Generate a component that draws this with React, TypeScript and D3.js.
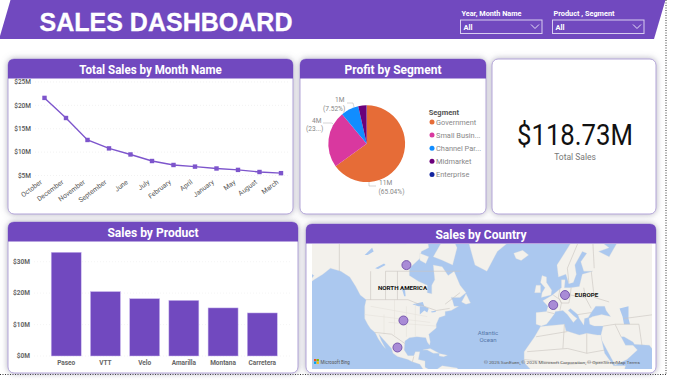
import React from "react";
import * as d3 from "d3";

const PURPLE = "#7149bf";
const months = ["October","December","November","September","June","July","February","April","January","May","August","March"];
const monthSales = [21.6,17.3,12.6,10.8,9.5,8.1,7.25,6.9,6.5,6.2,5.75,5.5];
const monthTicks = [5,10,15,20,25];
const products = ["Paseo","VTT","Velo","Amarilla","Montana","Carretera"];
const productSales = [33,20.5,18.25,17.7,15.3,13.7];
const productTicks = [0,10,20,30];
const segments = ["Government","Small Busin...","Channel Par...","Midmarket","Enterprise"];
const segmentProfit = [65.04,23.9,7.52,3.44,0.1];
const segmentColors = ["#e66c37","#d9389f","#118dff","#6b007b","#12239e"];
const countries: [number, number][] = [[-96,62],[-98,39],[-102,23.6],[2.5,46.6],[10.4,51]];

type P = [number, number];
const northAmerica: P[] = [[-168,66],[-162,70],[-156,71.5],[-141,70],[-128,70],[-115,68],[-108,68],[-96,68],[-94,72],[-88,68],[-82,69.5],[-81,67],[-86,66],[-87,64],[-94,61],[-94,58.5],[-88,56.5],[-82,55],[-82,52],[-79,51.5],[-79,55],[-77,57],[-78,62],[-72,61.5],[-68,58.5],[-64,60],[-60,55],[-56,52],[-60,50],[-66,50],[-65,48.5],[-64,46],[-61,46],[-66,44],[-70,43.5],[-70,41.5],[-74,40.5],[-76,37],[-76,35],[-81,31.5],[-80,27],[-80.5,25],[-82,27],[-83,29.5],[-89,30],[-94,29.5],[-97,27.5],[-97.5,22],[-95,18.5],[-91,18.5],[-90,21],[-87,21],[-88,16],[-83.5,15],[-83.5,11],[-80,9],[-77,8],[-75,10],[-72,12],[-62,10.5],[-60,8],[-60,0],[-80,0],[-80,7],[-85,10],[-87,13],[-92,14.5],[-95,16],[-102,18],[-105,20],[-106,23],[-109,26],[-112,29],[-114.5,31.5],[-113,28],[-110,23],[-112,25],[-115,29],[-117,32.5],[-120,34.5],[-122,37],[-124,40],[-124,46],[-123,49],[-127,51],[-130,54.5],[-134,58],[-140,60],[-147,61],[-152,59],[-158,57],[-164,54.5],[-158,58.5],[-165,61],[-165,64]];
const baffin: P[] = [[-92,74],[-72,74],[-62,67],[-65,62],[-72,63.5],[-78,64.5],[-73,68],[-80,70],[-86,70]];
const southampton: P[] = [[-87,65.5],[-81,64.5],[-83,62.5],[-87,63.5]];
const victoria: P[] = [[-118,72],[-105,73],[-102,69],[-115,69]];
const newfoundland: P[] = [[-59,48],[-56,51.5],[-53,47.5],[-56,47]];
const greenland: P[] = [[-60,76],[-20,76],[-22,70],[-35,66],[-42,60],[-50,62],[-54,68],[-58,74]];
const iceland: P[] = [[-24,65.5],[-18,66.3],[-14,65],[-19,63.4],[-22.5,64]];
const britain: P[] = [[-5.5,50],[1,51],[1.5,53],[-2,56],[-2,58],[-5,58.5],[-6,56],[-3,54],[-5,52]];
const ireland: P[] = [[-10,52],[-6,52],[-6,55],[-9,55]];
const cuba: P[] = [[-85,22],[-80,23],[-74,20],[-78,20],[-82,22]];
const hispaniola: P[] = [[-74,19.8],[-68.5,18.7],[-71,17.8],[-74,18.3]];
const eurasia: P[] = [[-9,37],[-9,43],[-2,43.5],[-1,46],[-4.5,48.5],[2,51],[8,54],[8,57],[10.5,57],[10,54],[14,54],[20,54.5],[22,59],[29,60],[23,60],[21,63],[25,65.5],[22,66],[17,62],[18,59],[16,56],[13,55.5],[11,59],[6,58],[5,62],[14,68],[25,71],[40,67],[33,66],[40,64.5],[45,68],[68,69],[70,75],[100,75],[100,10],[80,10],[73,18],[67,25],[57,25.5],[56,27],[50,30],[48,30],[51,25],[56,25],[59,22],[52,16],[44,12.5],[42,16],[35,28],[34.5,31],[36,36],[30,36],[27,37],[26.5,40],[29,41],[35,42],[41,41],[38,44],[37,46],[33,46],[31,46],[28,43],[26,40.5],[23.5,40],[23,36.5],[20,40],[19,42],[14,45],[12.5,44],[16,41.5],[18.5,40],[16,38],[12,42],[9,44],[4,43.5],[3,42],[0,39],[-2,37],[-5.5,36]];
const africa: P[] = [[-6,35.8],[10,37],[11,33.5],[20,31],[25,32],[32,31],[34.5,31],[35,28],[37,20],[43,12],[51,12],[48,0],[10,0],[9,5],[-8,4.5],[-17,14],[-17,21],[-10,30]];
const lands = [northAmerica,baffin,southampton,victoria,newfoundland,greenland,iceland,britain,ireland,cuba,hispaniola,eurasia,africa];
const caspian: P[] = [[47,45],[53,46],[53,40],[54,37],[50,37],[49,41]];
const superior: P[] = [[-92,47],[-85,48],[-84,46],[-88,46]];
const huron: P[] = [[-87,46],[-84,46],[-81,45],[-82,43],[-84,44],[-87,42]];
const ontario: P[] = [[-79.5,43.5],[-76,44],[-76.5,43.3],[-79,43]];
const winnipeg: P[] = [[-99,53.5],[-97,53.5],[-96.5,50.5],[-97.5,50.5]];
const slave: P[] = [[-117,61],[-111,62.5],[-110,62],[-115,60.7]];
const bear: P[] = [[-124,65],[-119,67],[-118,66],[-122,65]];
const waters = [caspian,superior,huron,ontario,winnipeg,slave,bear];
const borders: P[][] = [
  [[-123,49],[-95,49],[-84,46],[-76,44],[-67,45]],
  [[-117,32.5],[-106,31.5],[-97,26]],
  [[-141,70],[-141,60]],
  [[-92,14.5],[-91,18]],
  [[-1.5,43.3],[3,42.5]],[[2.5,51],[7,49],[8,47.5],[7,44]],[[7,53.5],[6,50],[8,47.5],[13,47.5],[14,51],[14.5,54]],
  [[14,51],[24,50],[28,45]],[[23,54],[24,50]],[[28,60],[30,50],[40,48]],[[20,69],[12,61],[13,56]],[[29,69],[30,61]],
  [[19,42],[28,43]],[[36,36],[44,37],[48,30]],[[44,37],[60,37],[62,25]],[[50,40],[70,42]],
  [[-9,30],[12,33]],[[25,32],[25,20],[37,22]],[[-15,21],[12,23],[25,20]],[[10,37],[9,23]],[[-17,16],[14,13],[40,15]],
  [[-70,47],[-60,52]],[[-110,60],[-60,60]],[[-110,60],[-110,49]],[[-120,60],[-120,49]],[[-102,60],[-102,49]],
];
const stateLines: P[][] = [[[-104,49],[-104,31]],[[-96,46],[-96,30]],[[-111,42],[-111,31.5]],[[-124,42],[-80,38]],[[-90,47],[-90,30]],[[-120,46],[-82,41]],[[-108,38],[-76,36]]];

const projection = d3.geoMercator().scale(85.4).translate([549.5, 383.7]);
const mapLine = d3.line<P>().x(d => projection(d)![0]).y(d => projection(d)![1]);
const closed = (pts: P[]) => mapLine(pts)! + "Z";

function Card({ x, y, w, h, title }: { x: number; y: number; w: number; h: number; title?: string }) {
  const r = 6;
  const headerH = 19.5;
  const path = `M${x},${y + headerH}V${y + r}Q${x},${y} ${x + r},${y}H${x + w - r}Q${x + w},${y} ${x + w},${y + r}V${y + headerH}Z`;
  return (
    <g>
      <rect x={x} y={y} width={w} height={h} rx={r} fill="#fff" stroke="#b3a5d8" strokeWidth={1} filter="url(#shadow)" />
      {title && <path d={path} fill={PURPLE} />}
      {title && (
        <text x={x + w / 2} y={y + 14.5} textAnchor="middle" fontFamily="Roboto" fontWeight={700} fontSize={13.5} fill="#fff" textLength={title.length * 5.7} lengthAdjust="spacingAndGlyphs">{title}</text>
      )}
    </g>
  );
}

function Slicer({ x, w, label, labelW }: { x: number; w: number; label: string; labelW: number }) {
  return (
    <g fontFamily="Roboto" fill="#fff">
      <text x={x + 1} y={15.5} fontSize={8} fontWeight={700} textLength={labelW} lengthAdjust="spacingAndGlyphs">{label}</text>
      <rect x={x} y={20} width={w} height={13.5} fill="none" stroke="#d8cdf0" strokeWidth={1} />
      <text x={x + 3} y={30} fontSize={7.5} fontWeight={700}>All</text>
      <path d={`M${x + w - 11},${24.5}l4,4l4,-4`} fill="none" stroke="#e8e0f8" strokeWidth={1} />
    </g>
  );
}

export default function App() {
  const lx = d3.scalePoint<string>().domain(months).range([44.5, 281]);
  const ly = d3.scaleLinear().domain([5, 25]).range([175.5, 82]);
  const linePath = d3.line<string>().x(d => lx(d)!).y((_, i) => ly(monthSales[i]))(months)!;

  const bx = d3.scaleBand<string>().domain(products).range([46.5, 282]).paddingInner(0.235).paddingOuter(0.12);
  const by = d3.scaleLinear().domain([0, 30]).range([356, 261.7]);

  const arcs = d3.pie<number>().sort(null)(segmentProfit);
  const arc = d3.arc<d3.PieArcDatum<number>>().innerRadius(0).outerRadius(38.4);

  return (
    <svg width={680} height={380} style={{ position: "absolute", left: 0, top: 0, background: "#fff" }}>
      <defs>
        <filter id="shadow" x="-10%" y="-10%" width="120%" height="120%">
          <feDropShadow dx={0} dy={0} stdDeviation={3.4} floodColor="#7d7a90" floodOpacity={0.6} />
        </filter>
        <clipPath id="mapClip"><rect x={312} y={244} width={340} height={125} /></clipPath>
        <filter id="soft"><feGaussianBlur stdDeviation={0.6} /></filter>
      </defs>

      <path d="M10.5,0H665.5L654,39H0V36Z" fill={PURPLE} />
      <text x={39.5} y={31} fontFamily="Liberation Sans" fontWeight={700} fontSize={26} fill="#fff" stroke="#fff" strokeWidth={0.3} textLength={253} lengthAdjust="spacingAndGlyphs">SALES DASHBOARD</text>
      <Slicer x={460.5} w={81.5} label="Year, Month Name" labelW={60} />
      <Slicer x={552.5} w={91.5} label="Product , Segment" labelW={61} />

      <line x1={666} y1={0} x2={666} y2={375} stroke="#333" strokeWidth={1} strokeDasharray="1 1.5" />
      <line x1={0} y1={374.5} x2={666} y2={374.5} stroke="#333" strokeWidth={1} strokeDasharray="1 1.5" />

      <Card x={8} y={59} w={285} h={155} title="Total Sales by Month Name" />
      <g fontFamily="Roboto" fontSize={6.5} fill="#555">
        {monthTicks.map(t => (
          <g key={t}>
            <line x1={35} x2={288} y1={ly(t)} y2={ly(t)} stroke="#e9e9e9" strokeWidth={0.6} strokeDasharray="1 2" />
            <text x={31} y={ly(t) + 2.3} textAnchor="end" fontWeight={500}>{`$${t}M`}</text>
          </g>
        ))}
        {months.map(m => (
          <text key={m} x={lx(m)! - 2} y={183} textAnchor="end" transform={`rotate(-37 ${lx(m)! - 2} 183)`} fontSize={6.8}>{m}</text>
        ))}
      </g>
      <path d={linePath} fill="none" stroke="#7d55cc" strokeWidth={1.4} />
      {months.map((m, i) => (
        <rect key={m} x={lx(m)! - 2.2} y={ly(monthSales[i]) - 2.2} width={4.4} height={4.4} fill="#7d55cc" />
      ))}

      <Card x={300} y={59} w={186} h={155} title="Profit by Segment" />
      <g transform="translate(366.7,143.7)">
        {arcs.map((a, i) => <path key={i} d={arc(a)!} fill={segmentColors[i]} />)}
      </g>
      <g fontFamily="Roboto" fontSize={6.6} fill="#888">
        <text x={379} y={185}>11M</text>
        <text x={378.5} y={193.5}>(65.04%)</text>
        <path d="M369,182v4h7" fill="none" stroke="#bbb" strokeWidth={0.6} />
        <text x={312} y={122.5}>4M</text>
        <text x={306} y={130.5}>(23...)</text>
        <path d="M323,123h9l2,2" fill="none" stroke="#bbb" strokeWidth={0.6} />
        <text x={335} y={101.5}>1M</text>
        <text x={323} y={110.5}>(7.52%)</text>
        <path d="M347,103h6l1,4" fill="none" stroke="#bbb" strokeWidth={0.6} />
      </g>
      <text x={428.7} y={114.5} fontFamily="Roboto" fontWeight={700} fontSize={7.5} fill="#555">Segment</text>
      {segments.map((s, i) => {
        const y = 122 + i * 13.1;
        return (
          <g key={s}>
            <circle cx={432} cy={y} r={2.5} fill={segmentColors[i]} />
            <text x={436} y={y + 2.7} fontFamily="Roboto" fontSize={7.4} fill="#888">{s}</text>
          </g>
        );
      })}

      <Card x={492} y={59} w={164} h={155} />
      <text x={575} y={145} textAnchor="middle" fontFamily="Roboto" fontSize={29} fill="#111" textLength={116} lengthAdjust="spacingAndGlyphs">$118.73M</text>
      <text x={575} y={160} textAnchor="middle" fontFamily="Roboto" fontSize={8.5} fill="#777">Total Sales</text>

      <Card x={8} y={222} w={290} h={151} title="Sales by Product" />
      <g fontFamily="Roboto" fontSize={6.5} fontWeight={700} fill="#666">
        {productTicks.map(t => (
          <g key={t}>
            <line x1={34} x2={292} y1={by(t)} y2={by(t)} stroke="#eee" strokeWidth={0.6} strokeDasharray="1 2" />
            <text x={30} y={by(t) + 2.3} textAnchor="end">{`$${t}M`}</text>
          </g>
        ))}
        {products.map((p, i) => (
          <g key={p}>
            <rect x={bx(p)} y={by(productSales[i])} width={bx.bandwidth()} height={by(0) - by(productSales[i])} fill={PURPLE} stroke="#cdbdf0" strokeWidth={0.5} />
            <text x={bx(p)! + bx.bandwidth() / 2} y={364.5} textAnchor="middle">{p}</text>
          </g>
        ))}
      </g>

      <Card x={306} y={224} w={350} h={149} title="Sales by Country" />
      <g clipPath="url(#mapClip)">
        <g filter="url(#soft)">
          <rect x={312} y={244} width={340} height={125} fill="#abc8ef" />
          {lands.map((l, i) => <path key={i} d={closed(l)} fill="#f3f1ec" stroke="#d5d8dd" strokeWidth={0.3} />)}
          {waters.map((l, i) => <path key={i} d={closed(l)} fill="#abc8ef" />)}
          {stateLines.map((l, i) => <path key={i} d={mapLine(l)!} fill="none" stroke="#e2dfd8" strokeWidth={0.5} />)}
          {borders.map((l, i) => <path key={i} d={mapLine(l)!} fill="none" stroke="#c9c5c0" strokeWidth={0.6} />)}
        </g>
        <text x={402.5} y={290} textAnchor="middle" fontFamily="Roboto" fontWeight={700} fontSize={6.2} fill="#111">NORTH AMERICA</text>
        <text x={586.5} y={296.5} textAnchor="middle" fontFamily="Roboto" fontWeight={700} fontSize={6.2} fill="#111">EUROPE</text>
        <text x={488} y={335} textAnchor="middle" fontFamily="Roboto" fontSize={6} fill="#5577aa">Atlantic</text>
        <text x={488} y={342} textAnchor="middle" fontFamily="Roboto" fontSize={6} fill="#5577aa">Ocean</text>
        {countries.map((c, i) => {
          const [x, y] = projection(c)!;
          return <circle key={i} cx={x} cy={y} r={4.5} fill="#a98bd6" stroke="#6f4fa8" strokeWidth={0.9} />;
        })}
        <g>
          <rect x={314} y={359} width={2.3} height={2.3} fill="#f25022" />
          <rect x={316.6} y={359} width={2.3} height={2.3} fill="#7fba00" />
          <rect x={314} y={361.6} width={2.3} height={2.3} fill="#00a4ef" />
          <rect x={316.6} y={361.6} width={2.3} height={2.3} fill="#ffb900" />
          <text x={320.5} y={363.5} fontFamily="Roboto" fontSize={4.5} fill="#555">Microsoft Bing</text>
        </g>
        <text x={484} y={364} fontFamily="Roboto" fontSize={4.3} fill="#555" textLength={156} lengthAdjust="spacingAndGlyphs">© 2025 SunEuen, © 2025 Microsoft Corporation, © OpenStreetMap  Terms</text>
      </g>
    </svg>
  );
}
